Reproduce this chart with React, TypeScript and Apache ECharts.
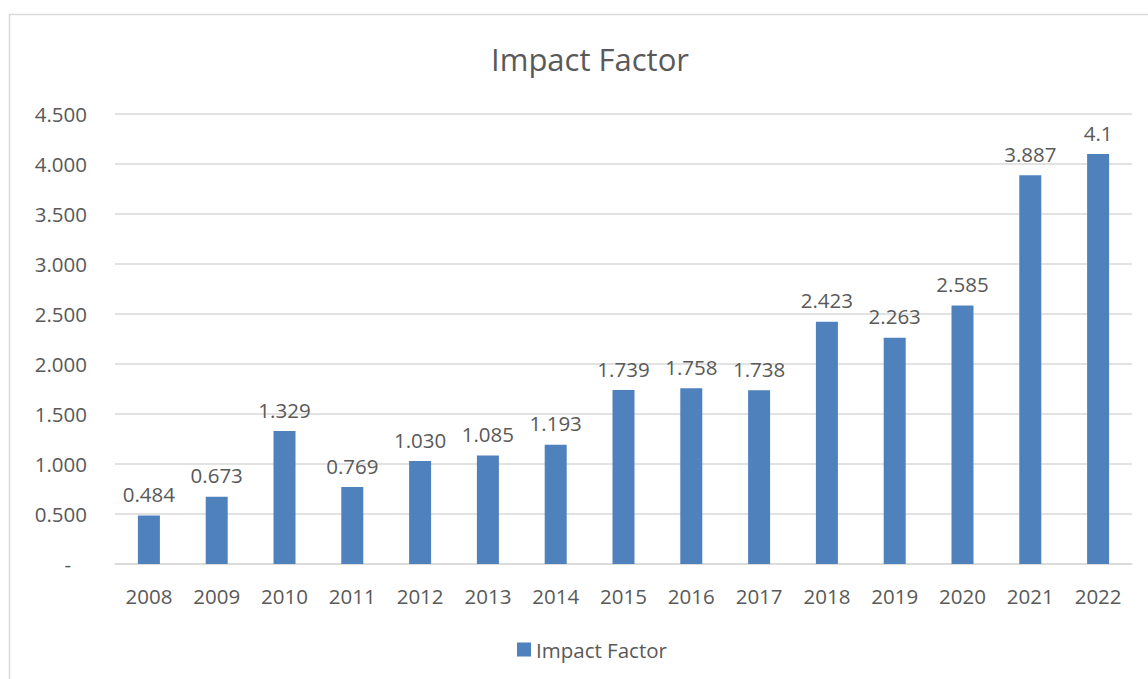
import React, { useEffect, useRef } from "react";
import * as echarts from "echarts";

const categories = ["2008","2009","2010","2011","2012","2013","2014","2015","2016","2017","2018","2019","2020","2021","2022"];
const values = [0.484,0.673,1.329,0.769,1.03,1.085,1.193,1.739,1.758,1.738,2.423,2.263,2.585,3.887,4.1];
const valueLabels = ["0.484","0.673","1.329","0.769","1.030","1.085","1.193","1.739","1.758","1.738","2.423","2.263","2.585","3.887","4.1"];
const seriesName = "Impact Factor";

const FONT = "'Open Sans', 'Noto Sans', sans-serif";
const TEXT = "#595959";
const FS = 20.5;

export default function App() {
  const ref = useRef<HTMLDivElement>(null);
  useEffect(() => {
    document.body.style.margin = "0";
    const chart = echarts.init(ref.current!, undefined, { renderer: "svg" });
    chart.setOption({
      animation: false,
      backgroundColor: "#ffffff",
      textStyle: { fontFamily: FONT },
      graphic: [
        {
          type: "rect",
          shape: { x: 9.5, y: 14.5, width: 1152, height: 700 },
          style: { fill: "none", stroke: "#D9D9D9", lineWidth: 1.5 },
          silent: true,
          z: -1,
        },
      ],
      title: {
        text: "Impact Factor",
        left: 585,
        top: 38,
        textAlign: "center",
        textStyle: { fontFamily: FONT, fontSize: 31, fontWeight: "normal", color: TEXT },
      },
      legend: {
        data: [seriesName],
        left: 512,
        top: 634,
        icon: "rect",
        itemWidth: 14,
        itemHeight: 14,
        itemGap: 6,
        textStyle: { fontFamily: FONT, fontSize: FS, color: TEXT },
      },
      grid: { left: 115, right: 16, top: 114, bottom: 115, containLabel: false },
      xAxis: {
        type: "category",
        data: categories,
        axisLine: { lineStyle: { color: "#D9D9D9", width: 1.5 } },
        axisTick: { show: false },
        axisLabel: { color: TEXT, fontSize: FS, fontFamily: FONT, margin: 21 },
      },
      yAxis: {
        type: "value",
        min: 0,
        max: 4.5,
        interval: 0.5,
        axisLine: { show: false },
        axisTick: { show: false },
        splitLine: { lineStyle: { color: "#D9D9D9", width: 1.5 } },
        axisLabel: {
          color: TEXT,
          fontSize: FS,
          fontFamily: FONT,
          margin: 28,
          formatter: (v: number) => (v === 0 ? "-   " : v.toFixed(3)),
        },
      },
      series: [
        {
          name: seriesName,
          type: "bar",
          data: values,
          barWidth: 22,
          itemStyle: { color: "#4F81BD" },
          label: {
            show: true,
            position: "top",
            distance: 11,
            color: TEXT,
            fontSize: FS,
            fontFamily: FONT,
            formatter: (p: any) => valueLabels[p.dataIndex],
          },
        },
      ],
    });
    return () => chart.dispose();
  }, []);
  return <div ref={ref} style={{ width: 1148, height: 679 }} />;
}
